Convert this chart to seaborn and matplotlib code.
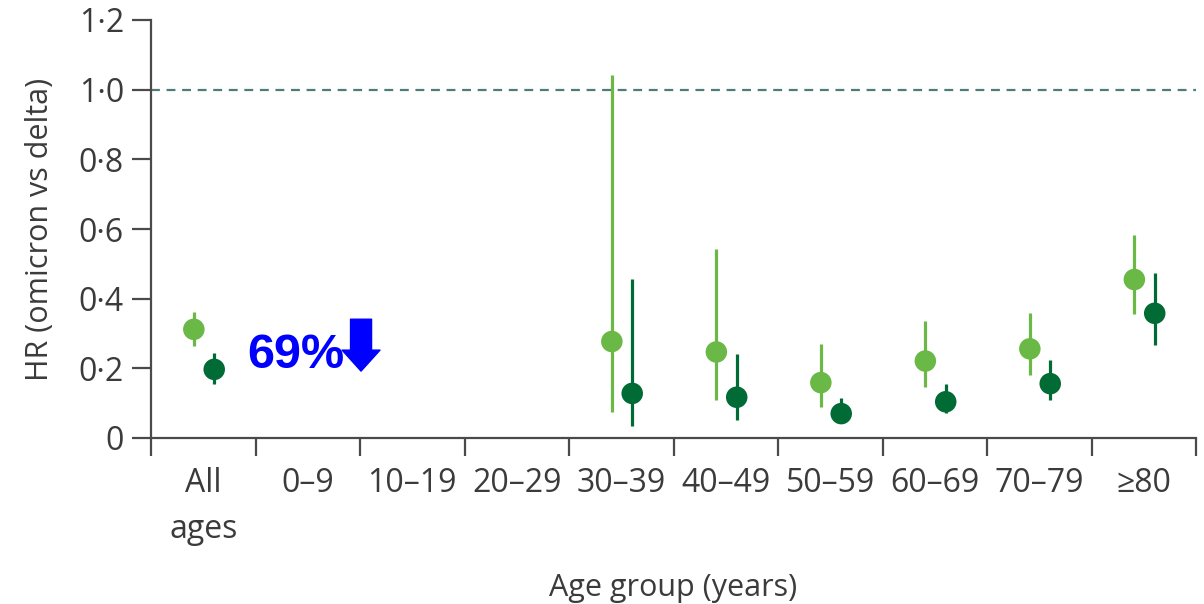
import numpy as np
import pandas as pd
import seaborn as sns
import matplotlib.pyplot as plt

# data
age_groups = ["All\nages", "0–9", "10–19", "20–29", "30–39",
              "40–49", "50–59", "60–69", "70–79", "≥80"]
nan = np.nan
admission_hr = [0.312, nan, nan, nan, 0.277, 0.247, 0.159, 0.221, 0.256, 0.455]
admission_lo = [0.265, nan, nan, nan, 0.074, 0.109, 0.088, 0.146, 0.181, 0.355]
admission_hi = [0.362, nan, nan, nan, 1.043, 0.544, 0.269, 0.337, 0.360, 0.583]
death_hr = [0.197, nan, nan, nan, 0.128, 0.117, 0.070, 0.104, 0.156, 0.358]
death_lo = [0.155, nan, nan, nan, 0.034, 0.052, 0.043, 0.072, 0.109, 0.267]
death_hi = [0.243, nan, nan, nan, 0.457, 0.241, 0.116, 0.154, 0.223, 0.475]
yticks = [0, 0.2, 0.4, 0.6, 0.8, 1.0, 1.2]
ytick_labels = ["0", "0·2", "0·4", "0·6", "0·8", "1·0", "1·2"]

light = "#6ab845"
dark = "#006b35"
text_col = "#3b3b3b"

idx = np.arange(len(age_groups))
df = pd.concat([
    pd.DataFrame({"pos": idx + 0.5 - 0.09, "hr": admission_hr, "lo": admission_lo,
                  "hi": admission_hi, "outcome": "Hospital admission"}),
    pd.DataFrame({"pos": idx + 0.5 + 0.105, "hr": death_hr, "lo": death_lo,
                  "hi": death_hi, "outcome": "Death"}),
]).dropna()

sns.set_style("ticks")
plt.rcParams["font.family"] = ["Open Sans", "DejaVu Sans"]

fig = plt.figure(figsize=(12.04, 6.04), dpi=100)
ax = fig.add_axes([151 / 1204, 1 - 438 / 604, (1196 - 151) / 1204, (438 - 20) / 604])

palette = {"Hospital admission": light, "Death": dark}
for name, grp in df.groupby("outcome"):
    ax.vlines(grp["pos"], grp["lo"], grp["hi"], color=palette[name], lw=2.3, zorder=2)
sns.scatterplot(data=df, x="pos", y="hr", hue="outcome", palette=palette,
                s=240, edgecolor="none", legend=False, zorder=3, ax=ax)

ax.axhline(1.0, color="#4f7b7b", lw=1.6, ls=(0, (4, 3)), zorder=1)

ax.set_xlim(0, 10)
ax.set_ylim(0, 1.2)
ax.set_yticks(yticks)
ax.set_yticklabels(ytick_labels)
ax.set_xticks(np.arange(0, 11))
ax.set_xticklabels([])
ax.set_xticks(idx + 0.5, minor=True)
ax.set_xticklabels(age_groups, minor=True)

for s in ["top", "right"]:
    ax.spines[s].set_visible(False)
for s in ["left", "bottom"]:
    ax.spines[s].set_color("#4a4a4a")
    ax.spines[s].set_linewidth(1.6)

ax.tick_params(axis="y", length=13.5, width=1.6, color="#4a4a4a", pad=6,
               labelsize=23, labelcolor=text_col)
ax.tick_params(axis="x", which="major", length=13, width=1.6, color="#4a4a4a")
ax.tick_params(axis="x", which="minor", length=0, pad=21,
               labelsize=23, labelcolor=text_col)
for lab in ax.get_xticklabels(minor=True):
    lab.set_verticalalignment("top")
    lab.set_linespacing(1.5)

ax.set_xlabel("Age group (years)", fontsize=22, color=text_col, labelpad=20)
ax.set_ylabel("HR (omicron vs delta)", fontsize=22, color=text_col, labelpad=17)

ax.text(0.92, 0.20, "69%", color="#0000ff", fontsize=35, fontweight="bold",
        family="Liberation Sans", ha="left", va="baseline")
ax.annotate("", xy=(2.01, 0.192), xytext=(2.01, 0.341),
            arrowprops=dict(arrowstyle="simple,head_length=0.72,head_width=1.3,tail_width=0.72",
                            color="#0000ff", mutation_scale=21, shrinkA=0, shrinkB=0))

fig.savefig("out.png", dpi=100)
